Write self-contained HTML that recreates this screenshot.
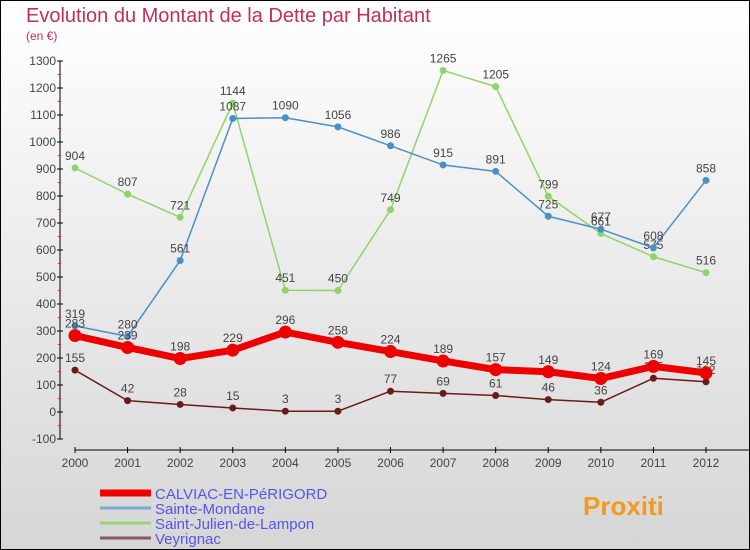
<!DOCTYPE html>
<html><head><meta charset="utf-8"><style>
body{margin:0}
#c{width:750px;height:550px;position:relative;font-family:"Liberation Sans",sans-serif}
svg{position:absolute;left:0;top:0}
</style></head><body>
<div id="c">
<svg id="s" width="750" height="550">
<defs><linearGradient id="bg" x1="0" y1="0" x2="0" y2="1"><stop offset="0" stop-color="#ffffff"/><stop offset="1" stop-color="#d6d6d6"/></linearGradient></defs>
<rect x="0.5" y="0.5" width="749" height="549" fill="url(#bg)" stroke="#000"/>
<text x="26" y="22" font-size="20" fill="#c0305a">Evolution du Montant de la Dette par Habitant</text>
<text x="26" y="40" font-size="12" fill="#c0305a">(en €)</text>
<g id="axes"></g><g id="series"></g><g id="legend"></g>
</svg></div>
<script>
const years=["2000","2001","2002","2003","2004","2005","2006","2007","2008","2009","2010","2011","2012"];
const yTicks=[-100,0,100,200,300,400,500,600,700,800,900,1000,1100,1200,1300];
const calviac=[283,239,198,229,296,258,224,189,157,149,124,169,145];
const mondane=[319,280,561,1087,1090,1056,986,915,891,725,677,608,858];
const julien=[904,807,721,1144,451,450,749,1265,1205,799,661,575,516];
const veyrignac=[155,42,28,15,3,3,77,69,61,46,36,125,112];
const NS="http://www.w3.org/2000/svg";
const X=i=>75+i*(631/12);
const Y=v=>412-v*0.27;
function mk(tag,attrs,parent,txt){const e=document.createElementNS(NS,tag);for(const k in attrs)e.setAttribute(k,attrs[k]);if(txt!==undefined)e.textContent=txt;parent.appendChild(e);return e;}
const ax=document.getElementById('axes');
let e=mk('line',{x1:60,y1:Y(1300),x2:60,y2:Y(-100),stroke:'#000'},ax);

e=mk('line',{x1:75,y1:450,x2:750,y2:450,stroke:'#000'},ax);

yTicks.forEach(v=>{
  mk('line',{x1:57,y1:Y(v),x2:63,y2:Y(v),stroke:'#000'},ax);
  mk('line',{x1:58,y1:Y(v+50),x2:61,y2:Y(v+50),stroke:'#e22'},ax).setAttribute('display',v<1300?'':'none');
  e=mk('text',{x:56,y:Y(v)+4,'font-size':12,'text-anchor':'end',fill:'#444'},ax,String(v));
  
});
years.forEach((y,i)=>{
  mk('line',{x1:X(i),y1:447,x2:X(i),y2:453,stroke:'#000'},ax);
  e=mk('text',{x:X(i),y:467,'font-size':12,'text-anchor':'middle',fill:'#444'},ax,y);
  
});
const sg=document.getElementById('series');
function series(data,color,w,r,name){
  const g=mk('g',{},sg);
  
  mk('polyline',{points:data.map((v,i)=>X(i)+','+Y(v)).join(' '),fill:'none',stroke:color,'stroke-width':w,'stroke-linejoin':'round'},g);
  data.forEach((v,i)=>{
    const c=mk('circle',{cx:X(i),cy:Y(v),r:r,fill:color},g);
    
    const t=mk('text',{x:X(i),y:Y(v)-8,'font-size':12,'text-anchor':'middle',fill:'#444'},g,String(v));
    
  });
}
series(julien,'#8fd46a',1.5,3.5,'series-saint-julien');
series(mondane,'#4a90c8',1.5,3.5,'series-sainte-mondane');
series(veyrignac,'#6b1a1a',1.5,3.5,'series-veyrignac');
series(calviac,'#ee0000',7,6.5,'series-calviac');
const lg=document.getElementById('legend');
const legs=[["CALVIAC-EN-PéRIGORD","#ee0000",7],["Sainte-Mondane","#7aaad0",3],["Saint-Julien-de-Lampon","#9ad47a",3],["Veyrignac","#8a5a5a",3]];
legs.forEach((l,i)=>{
  const g=mk('g',{},lg);
  
  const y=493+i*15;
  mk('line',{x1:100,y1:y,x2:151,y2:y,stroke:l[1],'stroke-width':l[2]},g);
  mk('text',{x:155,y:y+6,'font-size':15,fill:'#5555ee'},g,l[0]);
});
const p=mk('text',{x:583,y:515,'font-size':26,'font-weight':'bold',fill:'#f39a1e'},lg,'Proxiti');

</script>
</body></html>
